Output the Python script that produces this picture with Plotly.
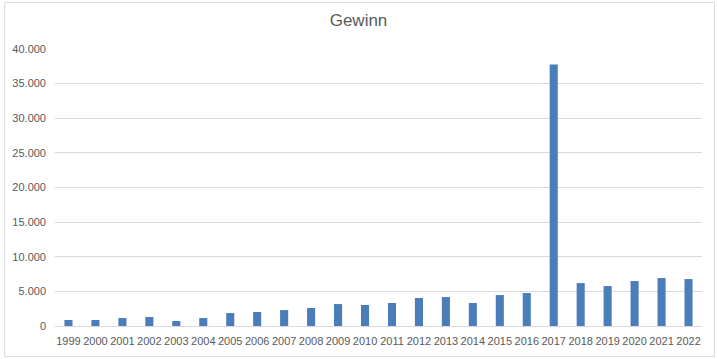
import plotly.graph_objects as go

years = [str(y) for y in range(1999, 2023)]
gewinn = [870, 870, 1150, 1300, 720, 1150, 1870, 2020, 2300, 2600, 3170, 3030,
          3320, 4040, 4180, 3320, 4470, 4760, 37750, 6200, 5770, 6490, 6920, 6780]
y_ticks = [0, 5000, 10000, 15000, 20000, 25000, 30000, 35000, 40000]

W, H = 717, 359
ml, mr, mt, mb = 53, 15, 49, 33

fig = go.Figure(go.Bar(x=years, y=gewinn, marker=dict(color="#4A7EBB", line=dict(width=0)),
                       width=0.3))

fig.update_layout(
    width=W, height=H,
    margin=dict(l=ml, r=mr, t=mt, b=mb),
    paper_bgcolor="white", plot_bgcolor="white",
    separators=",.",
    font=dict(family="Liberation Sans, Arial, sans-serif", size=11, color="#595959"),
    title=dict(text="Gewinn", x=0.5, xanchor="center", y=1 - 20 / H, yanchor="middle",
               font=dict(size=17, color="#595959", family="Liberation Sans, Arial, sans-serif")),
    showlegend=False,
    bargap=0.7,
)
fig.update_xaxes(type="category", showgrid=False, showline=True, linecolor="#D9D9D9",
                 linewidth=1, ticks="", tickfont=dict(size=11), ticklabelstandoff=5)
fig.update_yaxes(range=[0, 40000], tickvals=y_ticks, tickformat=",d", showgrid=True,
                 gridcolor="#D9D9D9", gridwidth=1, zeroline=False, showline=False,
                 ticks="", ticklen=0, tickfont=dict(size=11), ticklabelstandoff=8)

pw = W - ml - mr
ph = H - mt - mb
inset = 2.5
fig.add_shape(type="rect", xref="paper", yref="paper",
              x0=(inset - ml) / pw, x1=(W - inset - ml) / pw,
              y0=-(mb - inset) / ph,
              y1=(ph + mt - inset) / ph,
              line=dict(color="#D9D9D9", width=1))

fig.write_html("out.html")
